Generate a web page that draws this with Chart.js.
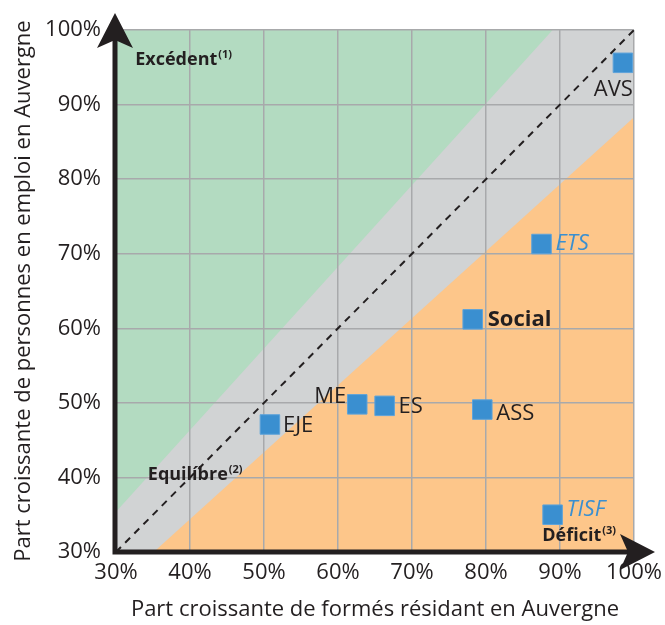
<!DOCTYPE html>
<html>
<head>
<meta charset="utf-8">
<script src="https://cdn.jsdelivr.net/npm/chart.js@4/dist/chart.umd.min.js"></script>
<style>
  html, body { margin: 0; padding: 0; background: #fff; }
  #wrap { width: 665px; height: 625px; }
</style>
</head>
<body>
<div id="wrap"><canvas id="chart" width="665" height="625"></canvas></div>
<script>
// formations and their shares (x: trained residents, y: employed people)
const formations = ['AVS', 'ETS', 'Social', 'ASS', 'ES', 'ME', 'EJE', 'TISF'];
const shareTrained = [98.5, 87.5, 78.2, 79.5, 66.3, 62.6, 50.8, 89.0];
const shareEmployed = [95.6, 71.3, 61.2, 49.1, 49.6, 49.8, 47.1, 35.0];

const axisTicks = [30, 40, 50, 60, 70, 80, 90, 100];

// zone boundaries
const surplusEdge = [{ x: 30, y: 35.4 }, { x: 89, y: 100 }];
const deficitEdge = [{ x: 35.1, y: 30 }, { x: 100, y: 88.3 }];
const balanceLine = [{ x: 30, y: 30 }, { x: 100, y: 100 }];

const zoneNotes = [
  { text: 'Excédent', sup: '(1)', x: 32.6, y: 95.3 },
  { text: 'Equilíbre', sup: '(2)', x: 34.3, y: 39.6 },
  { text: 'Déficit', sup: '(3)', x: 87.6, y: 31.5 }
];

const INK = '#231f20';
const BLUE = '#3a8fd0';
const FONT = "'Open Sans', sans-serif";

// how each point label sits next to its square
const labelStyle = {
  AVS:    { dx: 10, dy: 27, align: 'right', font: '22px ' + FONT, color: INK },
  ETS:    { dx: 14, dy: 0, align: 'left', font: 'italic 22px ' + FONT, color: BLUE },
  Social: { dx: 15, dy: 0, align: 'left', font: 'bold 22px ' + FONT, color: INK },
  ASS:    { dx: 14, dy: 4, align: 'left', font: '22px ' + FONT, color: INK },
  ES:     { dx: 14, dy: 1, align: 'left', font: '22px ' + FONT, color: INK },
  ME:     { dx: -11, dy: -8, align: 'right', font: '22px ' + FONT, color: INK },
  EJE:    { dx: 13, dy: 1, align: 'left', font: '22px ' + FONT, color: INK },
  TISF:   { dx: 14, dy: -5, align: 'left', font: 'italic 22px ' + FONT, color: BLUE }
};

const zonesPlugin = {
  id: 'zones',
  beforeDraw(chart) {
    const { ctx, chartArea: a, scales: { x, y } } = chart;
    const px = p => [x.getPixelForValue(p.x), y.getPixelForValue(p.y)];
    ctx.save();
    ctx.beginPath();
    ctx.rect(a.left, a.top, a.right - a.left, a.bottom - a.top);
    ctx.clip();
    ctx.fillStyle = '#d1d3d4';
    ctx.fillRect(a.left, a.top, a.right - a.left, a.bottom - a.top);

    // green: above the surplus edge
    let p0 = px(surplusEdge[0]), p1 = px(surplusEdge[1]);
    ctx.fillStyle = '#b3dbc1';
    ctx.beginPath();
    ctx.moveTo(p0[0], p0[1]);
    ctx.lineTo(p1[0], p1[1]);
    ctx.lineTo(x.getPixelForValue(30), y.getPixelForValue(100));
    ctx.closePath();
    ctx.fill();

    // orange: below the deficit edge
    p0 = px(deficitEdge[0]); p1 = px(deficitEdge[1]);
    ctx.fillStyle = '#fdc68a';
    ctx.beginPath();
    ctx.moveTo(p0[0], p0[1]);
    ctx.lineTo(p1[0], p1[1]);
    ctx.lineTo(x.getPixelForValue(100), y.getPixelForValue(30));
    ctx.closePath();
    ctx.fill();
    ctx.restore();
  }
};

function arrowHead(ctx, tx, ty, dir) {
  // dir: 'up' or 'right'
  const len = 35, half = 18, notch = 8;
  ctx.beginPath();
  if (dir === 'up') {
    ctx.moveTo(tx, ty);
    ctx.lineTo(tx + half, ty + len);
    ctx.lineTo(tx, ty + len - notch);
    ctx.lineTo(tx - half, ty + len);
  } else {
    ctx.moveTo(tx, ty);
    ctx.lineTo(tx - len, ty - half);
    ctx.lineTo(tx - len + notch, ty);
    ctx.lineTo(tx - len, ty + half);
  }
  ctx.closePath();
  ctx.fill();
}

const overlayPlugin = {
  id: 'overlay',
  afterDatasetsDraw(chart) {
    const { ctx } = chart;
    const meta = chart.getDatasetMeta(1);
    ctx.save();
    ctx.textBaseline = 'middle';
    meta.data.forEach((pt, i) => {
      const s = labelStyle[formations[i]];
      ctx.font = s.font;
      ctx.fillStyle = s.color;
      ctx.textAlign = s.align;
      ctx.fillText(formations[i], pt.x + s.dx, pt.y + s.dy);
    });
    ctx.restore();
  },
  afterDraw(chart) {
    const { ctx, chartArea: a, scales: { x, y } } = chart;
    ctx.save();
    // zone notes
    ctx.fillStyle = INK;
    ctx.textBaseline = 'alphabetic';
    ctx.textAlign = 'left';
    zoneNotes.forEach(n => {
      const nx = x.getPixelForValue(n.x), ny = y.getPixelForValue(n.y);
      ctx.font = 'bold 18px ' + FONT;
      ctx.fillText(n.text, nx, ny);
      const w = ctx.measureText(n.text).width;
      ctx.font = 'bold 11px ' + FONT;
      ctx.fillText(n.sup, nx + w + 1, ny - 7);
    });

    // axes with arrows
    ctx.strokeStyle = INK;
    ctx.fillStyle = INK;
    ctx.lineWidth = 5;
    ctx.beginPath();
    ctx.moveTo(a.left - 1, a.bottom + 2.5);
    ctx.lineTo(a.left - 1, 30);
    ctx.moveTo(a.left - 3.5, a.bottom);
    ctx.lineTo(a.right + 5, a.bottom);
    ctx.stroke();
    arrowHead(ctx, a.left - 1, 13, 'up');
    arrowHead(ctx, a.right + 21, a.bottom, 'right');
    ctx.restore();
  }
};

const gridOpts = { color: '#a8a9ab', lineWidth: 1.5, drawTicks: false };

new Chart(document.getElementById('chart'), {
  type: 'scatter',
  data: {
    datasets: [
      {
        type: 'line',
        data: balanceLine,
        borderColor: INK,
        borderWidth: 2,
        borderDash: [7, 6],
        pointRadius: 0,
        fill: false
      },
      {
        data: formations.map((f, i) => ({ x: shareTrained[i], y: shareEmployed[i] })),
        backgroundColor: BLUE,
        borderColor: '#5ea3da',
        borderWidth: 1,
        pointStyle: 'rect',
        pointRadius: 13.8,
        pointHoverRadius: 13.8
      }
    ]
  },
  options: {
    responsive: false,
    animation: false,
    layout: { padding: { left: 0, top: 30, right: 31, bottom: 0 } },
    plugins: {
      legend: { display: false },
      tooltip: { enabled: false }
    },
    scales: {
      x: {
        type: 'linear',
        min: 30,
        max: 100,
        afterFit(scale) {
          scale.height = 73;
          scale.paddingLeft = 0;
          scale.paddingRight = 0;
        },
        afterBuildTicks(scale) { scale.ticks = axisTicks.map(v => ({ value: v })); },
        grid: gridOpts,
        border: { display: false },
        ticks: {
          padding: 8,
          color: INK,
          font: { family: FONT, size: 22 },
          maxRotation: 0,
          autoSkip: false,
          callback: v => v + '%'
        },
        title: {
          display: true,
          text: 'Part croissante de formés résidant en Auvergne',
          color: INK,
          font: { family: FONT, size: 22 },
          padding: { top: 0, bottom: 2 }
        }
      },
      y: {
        type: 'linear',
        min: 30,
        max: 100,
        afterFit(scale) { scale.width = 116; },
        afterBuildTicks(scale) { scale.ticks = axisTicks.map(v => ({ value: v })); },
        grid: gridOpts,
        border: { display: false },
        ticks: {
          padding: 15,
          color: INK,
          font: { family: FONT, size: 22 },
          autoSkip: false,
          callback: v => v + '%'
        },
        title: {
          display: true,
          text: 'Part croissante de personnes en emploi en Auvergne',
          color: INK,
          font: { family: FONT, size: 22 },
          padding: { top: 11, bottom: 0 }
        }
      }
    }
  },
  plugins: [zonesPlugin, overlayPlugin]
});
</script>
</body>
</html>
